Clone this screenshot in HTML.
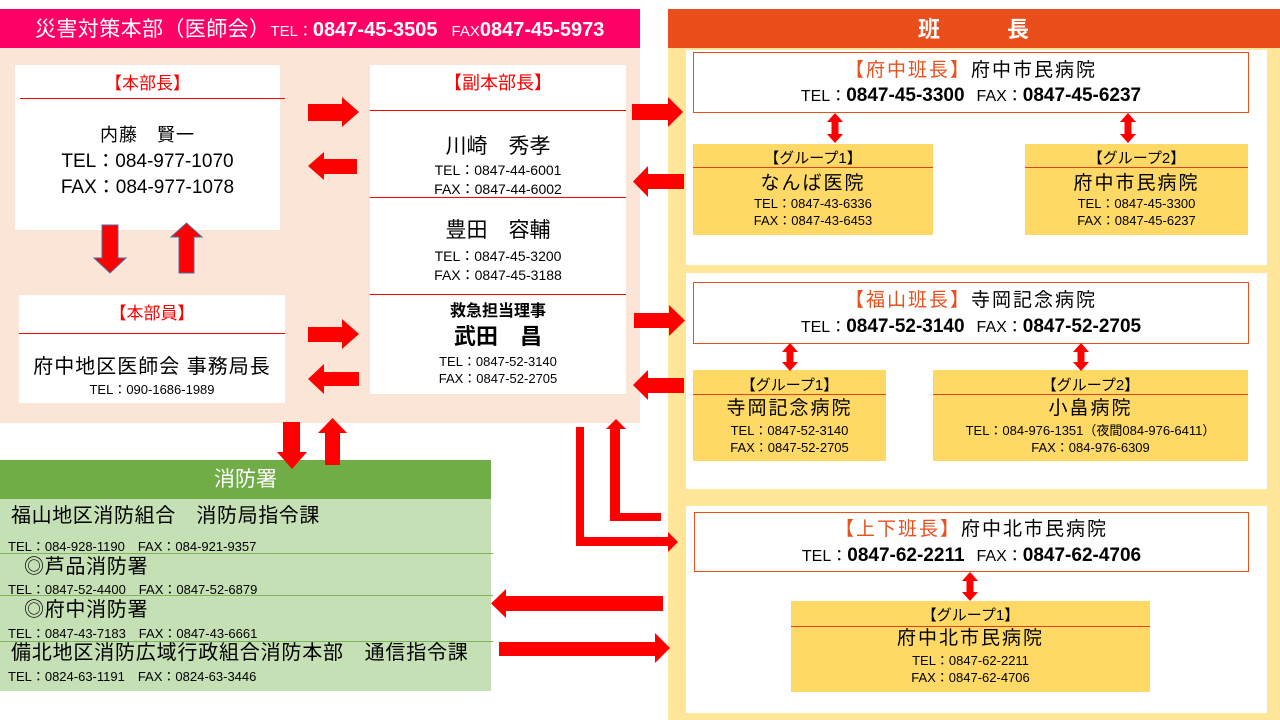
<!DOCTYPE html>
<html><head><meta charset="utf-8"><style>
*{margin:0;padding:0;box-sizing:border-box}
body{width:1280px;height:720px;position:relative;background:#fff;overflow:hidden;font-family:"Liberation Sans","Noto Sans CJK JP",sans-serif;color:#000}
.a{position:absolute}
.t{position:absolute;white-space:nowrap;line-height:1;text-align:center}
.l{text-align:left}
.r{color:#ff0000}
.o{color:#E8501E}
.b{font-weight:bold}
.hl{position:absolute;height:1px;background:#ff0000}
.gl{position:absolute;height:1px;background:#E8401A}
.fl{position:absolute;height:1px;left:0;width:493px;background:#7FB55A}
.grp{position:absolute;background:#FFD966}
.bx{position:absolute;background:#fff;border:1.5px solid #E8501E}
.tl{position:absolute;white-space:nowrap;text-align:center;height:22px;line-height:22px}
</style></head><body>

<!-- backgrounds -->
<div class="a" style="left:0;top:9px;width:640px;height:39px;background:#FF0066"></div>
<div class="a" style="left:0;top:48px;width:640px;height:375px;background:#FBE5D6"></div>
<div class="a" style="left:668px;top:9px;width:612px;height:39px;background:#E94E1B"></div>
<div class="a" style="left:668px;top:48px;width:612px;height:672px;background:#FFE699"></div>
<div class="a" style="left:686px;top:50px;width:581px;height:215px;background:#fff"></div>
<div class="a" style="left:686px;top:273px;width:581px;height:216px;background:#fff"></div>
<div class="a" style="left:686px;top:506px;width:581px;height:207px;background:#fff"></div>

<!-- header left -->
<div class="a" style="left:35px;top:17px;height:26px;line-height:26px;color:#fff;white-space:nowrap"><span style="font-size:21px;letter-spacing:0.4px">災害対策本部（医師会）</span><span style="font-size:15px">TEL：</span><span class="b" style="font-size:20px">0847-45-3505</span><span style="font-size:15px;margin-left:14px">FAX</span><span class="b" style="font-size:20px">0847-45-5973</span></div>

<!-- header right -->
<div class="t b" style="left:907px;top:19px;width:44px;font-size:22px;color:#fff">班</div>
<div class="t b" style="left:996px;top:19px;width:44px;font-size:22px;color:#fff">長</div>

<!-- 本部長 -->
<div class="a" style="left:15px;top:65px;width:265px;height:165px;background:#fff"></div>
<div class="t r" style="left:15px;width:265px;top:74.5px;font-size:17px">【本部長】</div>
<div class="hl" style="left:20px;top:98px;width:265px"></div>
<div class="t" style="left:15px;width:265px;top:126px;font-size:18px;letter-spacing:1px">内藤　賢一</div>
<div class="t" style="left:15px;width:265px;top:151.5px;font-size:19px">TEL：084-977-1070</div>
<div class="t" style="left:15px;width:265px;top:177.5px;font-size:19px">FAX：084-977-1078</div>

<!-- 本部員 -->
<div class="a" style="left:19px;top:295px;width:266px;height:108px;background:#fff"></div>
<div class="t r" style="left:19px;width:266px;top:304.5px;font-size:17px">【本部員】</div>
<div class="hl" style="left:19px;top:333px;width:266px"></div>
<div class="t" style="left:19px;width:266px;top:357px;font-size:20px;letter-spacing:1px">府中地区医師会 事務局長</div>
<div class="t" style="left:19px;width:266px;top:382.5px;font-size:13px">TEL：090-1686-1989</div>

<!-- 副本部長 -->
<div class="a" style="left:370px;top:65px;width:256px;height:329px;background:#fff"></div>
<div class="t r" style="left:370px;width:256px;top:74px;font-size:18px">【副本部長】</div>
<div class="hl" style="left:370px;top:110px;width:256px"></div>
<div class="t" style="left:370px;width:256px;top:135.5px;font-size:21px">川崎　秀孝</div>
<div class="t" style="left:370px;width:256px;top:163px;font-size:14px">TEL：0847-44-6001</div>
<div class="t" style="left:370px;width:256px;top:182px;font-size:14px">FAX：0847-44-6002</div>
<div class="hl" style="left:370px;top:197px;width:256px"></div>
<div class="t" style="left:370px;width:256px;top:219.5px;font-size:21px">豊田　容輔</div>
<div class="t" style="left:370px;width:256px;top:249px;font-size:14px">TEL：0847-45-3200</div>
<div class="t" style="left:370px;width:256px;top:268px;font-size:14px">FAX：0847-45-3188</div>
<div class="hl" style="left:370px;top:294px;width:256px"></div>
<div class="t b" style="left:370px;width:256px;top:304px;font-size:16px">救急担当理事</div>
<div class="t b" style="left:370px;width:256px;top:326px;font-size:22px">武田　昌</div>
<div class="t" style="left:370px;width:256px;top:354.5px;font-size:13px">TEL：0847-52-3140</div>
<div class="t" style="left:370px;width:256px;top:371.5px;font-size:13px">FAX：0847-52-2705</div>

<!-- 消防署 -->
<div class="a" style="left:0;top:460px;width:491px;height:39px;background:#70AD47"></div>
<div class="a" style="left:0;top:499px;width:491px;height:192px;background:#C5E0B4"></div>
<div class="t" style="left:0;width:491px;top:469px;font-size:21px;color:#fff">消防署</div>
<div class="t l" style="left:11px;top:506px;font-size:20px;letter-spacing:0.6px">福山地区消防組合　消防局指令課</div>
<div class="t l" style="left:8px;top:539.5px;font-size:13px">TEL：084-928-1190　FAX：084-921-9357</div>
<div class="fl" style="top:553px"></div>
<div class="t l" style="left:24px;top:557px;font-size:20px;letter-spacing:0.7px">◎芦品消防署</div>
<div class="t l" style="left:8px;top:582.5px;font-size:13px">TEL：0847-52-4400　FAX：0847-52-6879</div>
<div class="fl" style="top:595px"></div>
<div class="t l" style="left:24px;top:600px;font-size:20px;letter-spacing:0.7px">◎府中消防署</div>
<div class="t l" style="left:8px;top:626.5px;font-size:13px">TEL：0847-43-7183　FAX：0847-43-6661</div>
<div class="fl" style="top:641px"></div>
<div class="t l" style="left:11px;top:643px;font-size:20px;letter-spacing:0.8px">備北地区消防広域行政組合消防本部　通信指令課</div>
<div class="t l" style="left:8px;top:669.5px;font-size:13px">TEL：0824-63-1191　FAX：0824-63-3446</div>

<!-- 府中班 -->
<div class="bx" style="left:693px;top:52px;width:556px;height:61px"></div>
<div class="t" style="left:693px;width:556px;top:60.5px;font-size:19px;letter-spacing:2px"><span class="o">【府中班長】</span>府中市民病院</div>
<div class="tl" style="left:693px;width:556px;top:85px"><span style="font-size:16px">TEL：</span><span class="b" style="font-size:19px">0847-45-3300</span><span style="font-size:16px;margin-left:12px">FAX：</span><span class="b" style="font-size:19px">0847-45-6237</span></div>

<div class="grp" style="left:693px;top:144px;width:240px;height:91px"></div>
<div class="t" style="left:693px;width:240px;top:150.5px;font-size:15px">【グループ1】</div>
<div class="gl" style="left:693px;top:167px;width:240px"></div>
<div class="t" style="left:693px;width:240px;top:173.5px;font-size:19px;letter-spacing:2px">なんば医院</div>
<div class="t" style="left:693px;width:240px;top:196.5px;font-size:13px">TEL：0847-43-6336</div>
<div class="t" style="left:693px;width:240px;top:213.5px;font-size:13px">FAX：0847-43-6453</div>

<div class="grp" style="left:1025px;top:144px;width:223px;height:91px"></div>
<div class="t" style="left:1025px;width:223px;top:150.5px;font-size:15px">【グループ2】</div>
<div class="gl" style="left:1025px;top:167px;width:223px"></div>
<div class="t" style="left:1025px;width:223px;top:173.5px;font-size:19px;letter-spacing:2px">府中市民病院</div>
<div class="t" style="left:1025px;width:223px;top:196.5px;font-size:13px">TEL：0847-45-3300</div>
<div class="t" style="left:1025px;width:223px;top:213.5px;font-size:13px">FAX：0847-45-6237</div>

<!-- 福山班 -->
<div class="bx" style="left:693px;top:282px;width:556px;height:62px"></div>
<div class="t" style="left:693px;width:556px;top:290.5px;font-size:19px;letter-spacing:2px"><span class="o">【福山班長】</span>寺岡記念病院</div>
<div class="tl" style="left:693px;width:556px;top:316px"><span style="font-size:16px">TEL：</span><span class="b" style="font-size:19px">0847-52-3140</span><span style="font-size:16px;margin-left:12px">FAX：</span><span class="b" style="font-size:19px">0847-52-2705</span></div>

<div class="grp" style="left:693px;top:370px;width:193px;height:91px"></div>
<div class="t" style="left:693px;width:193px;top:377.5px;font-size:15px">【グループ1】</div>
<div class="gl" style="left:693px;top:394px;width:193px"></div>
<div class="t" style="left:693px;width:193px;top:398.5px;font-size:19px;letter-spacing:2px">寺岡記念病院</div>
<div class="t" style="left:693px;width:193px;top:423.5px;font-size:13px">TEL：0847-52-3140</div>
<div class="t" style="left:693px;width:193px;top:440.5px;font-size:13px">FAX：0847-52-2705</div>

<div class="grp" style="left:933px;top:370px;width:315px;height:91px"></div>
<div class="t" style="left:933px;width:315px;top:377.5px;font-size:15px">【グループ2】</div>
<div class="gl" style="left:933px;top:394px;width:315px"></div>
<div class="t" style="left:933px;width:315px;top:398.5px;font-size:19px;letter-spacing:2px">小畠病院</div>
<div class="t" style="left:933px;width:315px;top:423.5px;font-size:13px">TEL：084-976-1351（夜間084-976-6411）</div>
<div class="t" style="left:933px;width:315px;top:440.5px;font-size:13px">FAX：084-976-6309</div>

<!-- 上下班 -->
<div class="bx" style="left:694px;top:512px;width:555px;height:60px"></div>
<div class="t" style="left:694px;width:555px;top:519.5px;font-size:19px;letter-spacing:2px"><span class="o">【上下班長】</span>府中北市民病院</div>
<div class="tl" style="left:694px;width:555px;top:545px"><span style="font-size:16px">TEL：</span><span class="b" style="font-size:19px">0847-62-2211</span><span style="font-size:16px;margin-left:12px">FAX：</span><span class="b" style="font-size:19px">0847-62-4706</span></div>

<div class="grp" style="left:791px;top:601px;width:359px;height:91px"></div>
<div class="t" style="left:791px;width:359px;top:607.5px;font-size:15px">【グループ1】</div>
<div class="gl" style="left:791px;top:626px;width:359px"></div>
<div class="t" style="left:791px;width:359px;top:628.5px;font-size:19px;letter-spacing:2px">府中北市民病院</div>
<div class="t" style="left:791px;width:359px;top:653.5px;font-size:13px">TEL：0847-62-2211</div>
<div class="t" style="left:791px;width:359px;top:670.5px;font-size:13px">FAX：0847-62-4706</div>

<!-- arrows -->
<svg class="a" style="left:0;top:0" width="1280" height="720" viewBox="0 0 1280 720">
<g fill="#ff0000">
<polygon points="308,104 342,104 342,97 359,112 342,127 342,121 308,121"/>
<polygon points="357,159 324,159 324,152 308,166 324,180 324,174 357,174"/>
<polygon points="308,327 342,327 342,319 359,334 342,349 342,342 308,342"/>
<polygon points="359,372 324,372 324,364 308,379 324,394 324,386 359,386"/>
<polygon points="632,104 668,104 668,97 683,112 668,127 668,120 632,120"/>
<polygon points="684,174 648,174 648,166 633,181.5 648,197 648,189 684,189"/>
<polygon points="634,313 669,313 669,305 685,320.5 669,336 669,328 634,328"/>
<polygon points="684,378 648,378 648,370 633,385 648,400 648,393 684,393"/>
<polygon points="283,422 300,422 300,452 307,452 292,469 277,452 283,452"/>
<polygon points="325,465 340,465 340,433 347,433 332.5,418 318,433 325,433"/>
<polygon points="576,427 584,427 584,537 668,537 668,532 678,542 668,552 668,546 576,546"/>
<polygon points="661,513 620,513 620,429 626,429 616,419 606,429 610,429 610,521 661,521"/>
<polygon points="663,596 506,596 506,589 491,603.5 506,618 506,611 663,611"/>
<polygon points="499,642 655,642 655,633 670,648 655,663 655,656 499,656"/>
<polygon points="835,113 843,122 838.5,122 838.5,134 843,134 835,143 827,134 831.5,134 831.5,122 827,122"/>
<polygon points="1128,113 1136,122 1131.5,122 1131.5,134 1136,134 1128,143 1120,134 1124.5,134 1124.5,122 1120,122"/>
<polygon points="790,343 798,352 793.5,352 793.5,362 798,362 790,371 782,362 786.5,362 786.5,352 782,352"/>
<polygon points="1081,343 1089,352 1084.5,352 1084.5,362 1089,362 1081,371 1073,362 1077.5,362 1077.5,352 1073,352"/>
<polygon points="970,572 978,581 973.5,581 973.5,592 978,592 970,601 962,592 966.5,592 966.5,581 962,581"/>
</g>
<g fill="#ff0000" stroke="#4a6fa5" stroke-width="1">
<polygon points="102,225 118,225 118,258 126,258 110,273 94,258 102,258"/>
<polygon points="179,273 194,273 194,237 202,237 186.5,223 171,237 179,237"/>
</g>
</svg>
</body></html>
